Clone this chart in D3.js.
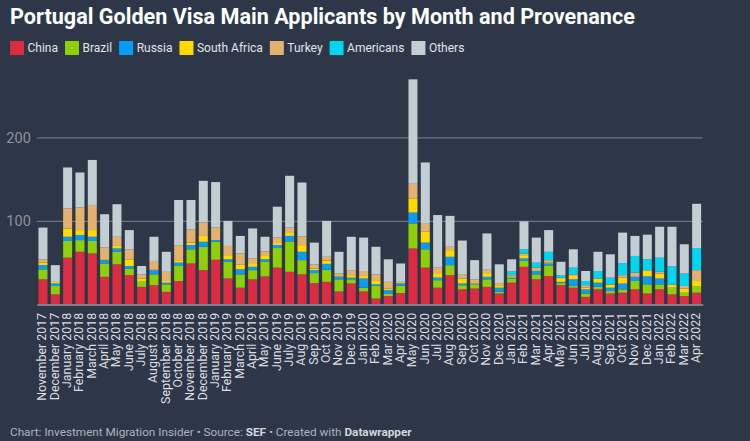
<!DOCTYPE html>
<html>
<head>
<meta charset="utf-8">
<script src="https://cdn.jsdelivr.net/npm/d3@7"></script>
<style>
  html, body { margin: 0; padding: 0; background: #2d3748; }
  svg { display: block; font-family: Roboto, sans-serif; }
</style>
</head>
<body>
<svg id="chart" width="750" height="441"></svg>
<script>
// values
const months = ["November 2017","December 2017","January 2018","February 2018","March 2018","April 2018","May 2018","June 2018","July 2018","August 2018","September 2018","October 2018","November 2018","December 2018","January 2019","February 2019","March 2019","April 2019","May 2019","June 2019","July 2019","Aug 2019","Sep 2019","Oct 2019","Nov 2019","Dec 2019","Jan 2020","Feb 2020","Mar 2020","Apr 2020","May 2020","Jun 2020","Jul 2020","Aug 2020","Sep 2020","Oct 2020","Nov 2020","Dec 2020","Jan 2021","Feb 2021","Mar 2021","Apr 2021","May 2021","Jun 2021","Jul 2021","Aug 2021","Sep 2021","Oct 2021","Nov 2021","Dec 2021","Jan 2022","Feb 2022","Mar 2022","Apr 2022"];
const china = [30,12,56,63,61,33,48,35,21,23,15,28,49,41,53.5,31,20,30,33.5,44,39,36,25.5,27,15.5,25,15.5,7,10,13.5,67,44,20,35,18,19,21,13,26,45,30,34,23,20,9,18,13,14,18,13,18,12,10,14];
const brazil = [12,10,20,14,15,16,15,8,7,13,9,18,17,28,21.5,20,16,11,18,23.5,36.5,17,12,14.5,14.5,5,4.5,15,2.5,9,30,22,9,12,5,4.5,9,2.5,5,7,6,12,2.5,2,4,3,3,4,10,11,6,8,4,8];
const russia = [5,3,5,6,5,4,4,3,0,5,2,4,5,6,2,3,6,4,2.5,3.5,6.5,10,3.5,7,3,2,11,2,4.5,2.5,13,8,3,10,2,0.5,3,4.5,1,3,4,3,1.5,8,5,5,4,7,5,9.5,7,0,0,0];
const southAfrica = [3,2,10,6,8,1,3,8,3,1,2,3,3,7,0,5,5.5,4.5,5,2.5,3.5,8,2,4,0.5,2,3,5,2,0.5,17,13,5.5,8,6,1,4.5,3,1,4,1,1,4.5,4,2,5,3.5,7,0,6.5,6,3.5,5,6];
const turkey = [4,0,24,27,30,14,11,12,5,10,11,18,16,16,15,11,13.5,5.5,4.5,6.5,6.5,10.5,5,4.5,3.5,7,6,7,8,1.5,17.5,9.5,6.5,4,4.5,5,4,2.5,2,2,3,3,0.5,2,3,0,0.5,3,5,1,2,0,3,13];
const americans = [0,0,0,0,0,0,0,0,0,0,0,0,0,0,0,0,0,0,0,0,0,0,0,0,0,0,0,0,0,0,0,0,0,0,0,0,0,0,4.5,5,6,10,3,8,5,9,8,14.5,20,13,17,22,15,26.5];
const others = [38,20,49,42,54,40,39,23,10,29,24,54,35,50,54.5,30,21,36,17.5,37,62,64.5,26,43,26,40,40,33,27,22,125,73.5,63,37,41,23,43.5,22.5,14.5,33.5,30,26,16,22,12,23,28,36.5,24,29.5,37,47.5,35,53];

const seriesNames = ["China","Brazil","Russia","South Africa","Turkey","Americans","Others"];
const seriesValues = [china, brazil, russia, southAfrica, turkey, americans, others];
const seriesColors = ["#dd2c42","#8fcf0a","#0a9bf5","#ffd900","#e3b26f","#00d6ee","#c3ced3"];
const yTicks = [100, 200];

const svg = d3.select("#chart");

const x = d3.scaleBand().domain(months).range([36.8, 702.8]).paddingInner(0.27).paddingOuter(0.135);
const y = d3.scaleLinear().domain([0, 200]).range([304.4, 137.4]);

// title
svg.append("text").attr("x", 10).attr("y", 24)
  .attr("font-size", 21.6).attr("font-weight", 700).attr("fill", "#ffffff")
  .text("Portugal Golden Visa Main Applicants by Month and Provenance");

// legend, laid out left to right
var legendX = 10;
seriesNames.forEach(function(name, i) {
  svg.append("rect").attr("x", legendX).attr("y", 41).attr("width", 14).attr("height", 14)
    .attr("fill", seriesColors[i]);
  var label = svg.append("text").attr("x", legendX + 17.5).attr("y", 52)
    .attr("font-size", 12).attr("fill", "#e2e4e6").text(name);
  legendX += 17.5 + label.node().getComputedTextLength() + 7;
});

// grid + y labels
var yAxis = d3.axisLeft(y).tickValues(yTicks).tickSize(-(702.8 - 36.8)).tickPadding(6);
var yG = svg.append("g").attr("transform", "translate(36.8,0)").call(yAxis);
yG.select(".domain").remove();
yG.selectAll("line").attr("stroke", "#6d7480").attr("stroke-width", 1.2);
yG.selectAll("text").attr("font-family", "Roboto, sans-serif").attr("font-size", 14.5).attr("fill", "#8d939c");

// stacked bars
const rows = months.map(function(m, i) {
  var row = { month: m };
  seriesNames.forEach(function(name, s) { row[name] = seriesValues[s][i]; });
  return row;
});
const stacked = d3.stack().keys(seriesNames)(rows);

svg.append("g").selectAll("g").data(stacked).join("g")
  .attr("fill", function(d, i) { return seriesColors[i]; })
  .selectAll("rect").data(function(d) { return d; }).join("rect")
  .attr("x", function(d) { return x(d.data.month); })
  .attr("width", x.bandwidth())
  .attr("y", function(d) { return y(d[1]); })
  .attr("height", function(d) { return y(d[0]) - y(d[1]); });

// x axis, labels read bottom to top
var xAxis = d3.axisBottom(x).tickSize(0).tickPadding(0);
var xG = svg.append("g").attr("transform", "translate(0,304.4)").call(xAxis);
xG.select(".domain").attr("stroke", "#7d7f8a").attr("stroke-width", 2);
xG.selectAll("text")
  .attr("font-family", "Roboto, sans-serif").attr("font-size", 12.4).attr("fill", "#dcdee0")
  .attr("text-anchor", "end").attr("dominant-baseline", "middle")
  .attr("transform", "translate(0,8.5) rotate(-90)")
  .attr("x", 0).attr("y", 0).attr("dy", null);

// footer
var foot = svg.append("text").attr("x", 10).attr("y", 435.5)
  .attr("font-size", 11.75).attr("fill", "#aeb4bb");
foot.append("tspan").text("Chart: Investment Migration Insider • Source: ");
foot.append("tspan").attr("font-weight", 700).attr("fill", "#d4d7da").text("SEF");
foot.append("tspan").text(" • Created with ");
foot.append("tspan").attr("font-weight", 700).attr("fill", "#d4d7da").text("Datawrapper");
</script>
</body>
</html>
